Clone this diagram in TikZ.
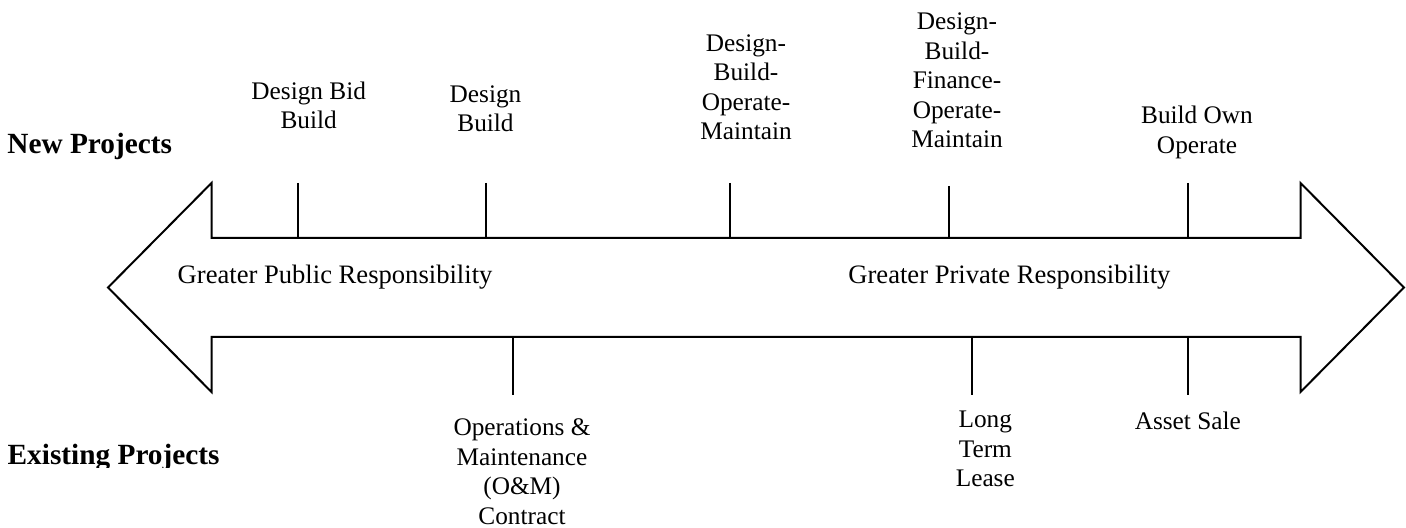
\documentclass[tikz,border=0pt]{standalone}
\usepackage{fontspec}
\setmainfont{Liberation Serif}
\usepackage{tikz}

\begin{document}
\begin{tikzpicture}[x=0.5pt,y=-0.5pt]
  \tikzset{arrowoutline/.style={draw=black,line width=1pt,line join=miter}}
  \tikzset{tickline/.style={draw=black,line width=1pt}}
  % multi-line labels sit on the baseline of their last line
  \tikzset{modellabel/.style={font=\fontsize{12.65}{14.75}\selectfont,align=center,anchor=base,inner sep=0pt}}
  \tikzset{spanlabel/.style={font=\fontsize{13.3}{15.5}\selectfont,anchor=base west,inner sep=0pt}}
  \tikzset{rowlabel/.style={font=\fontsize{14.65}{17}\selectfont\bfseries,anchor=base west,inner sep=0pt}}
  \useasboundingbox (0,0) rectangle (1406,528);
  % outline of the double arrow
  \coordinate (lt) at (108,287.5);
  \coordinate (lht) at (211.5,183);
  \coordinate (lbt) at (211.5,238);
  \coordinate (rbt) at (1300.5,238);
  \coordinate (rht) at (1300.5,183);
  \coordinate (rt) at (1404,287.5);
  \coordinate (rhb) at (1300.5,392);
  \coordinate (rbb) at (1300.5,337);
  \coordinate (lbb) at (211.5,337);
  \coordinate (lhb) at (211.5,392);
  \draw[arrowoutline] (lt) -- (lht) -- (lbt) -- (rbt) -- (rht) -- (rt)
    -- (rhb) -- (rbb) -- (lbb) -- (lhb) -- cycle;
  % ticks above the arrow
  \coordinate (dbb0) at (297.5,183);
  \coordinate (dbb1) at (297.5,238);
  \draw[tickline] (dbb0) -- (dbb1);
  \coordinate (db0) at (486,183);
  \coordinate (db1) at (486,238);
  \draw[tickline] (db0) -- (db1);
  \coordinate (dbom0) at (729.5,183);
  \coordinate (dbom1) at (729.5,238);
  \draw[tickline] (dbom0) -- (dbom1);
  \coordinate (dbfom0) at (948.5,186);
  \coordinate (dbfom1) at (948.5,238);
  \draw[tickline] (dbfom0) -- (dbfom1);
  \coordinate (boo0) at (1188.3,183);
  \coordinate (boo1) at (1188.3,238);
  \draw[tickline] (boo0) -- (boo1);
  % ticks below the arrow
  \coordinate (om0) at (513.3,337);
  \coordinate (om1) at (513.3,395);
  \draw[tickline] (om0) -- (om1);
  \coordinate (ltl0) at (972.3,337);
  \coordinate (ltl1) at (972.3,395);
  \draw[tickline] (ltl0) -- (ltl1);
  \coordinate (as0) at (1188.3,337);
  \coordinate (as1) at (1188.3,395);
  \draw[tickline] (as0) -- (as1);
  % delivery models
  \node[modellabel] (dbb) at (308.7,129) {Design Bid\\Build};
  \node[modellabel] (db) at (485.5,131.7) {Design\\Build};
  \node[modellabel] (dbom) at (746,140) {Design-\\Build-\\Operate-\\Maintain};
  \node[modellabel] (dbfom) at (957,147.7) {Design-\\Build-\\Finance-\\Operate-\\Maintain};
  \node[modellabel] (boo) at (1197,153.3) {Build Own\\Operate};
  \node[modellabel] (om) at (522,524) {Operations \&\\Maintenance\\(O\&M)\\Contract};
  \node[modellabel] (ltl) at (985.3,486.7) {Long\\Term\\Lease};
  \node[modellabel] (as) at (1187.8,429.3) {Asset Sale};
  % text inside the arrow
  \node[spanlabel] (public) at (177.3,283.3) {Greater Public Responsibility};
  \node[spanlabel] (private) at (848,283.3) {Greater Private Responsibility};
  % row headings
  \node[rowlabel] (new) at (7,153.3) {New Projects};
  \begin{scope}
    \clip (0,420) rectangle (300,467);
    \node[rowlabel] (existing) at (7.3,464.3) {Existing Projects};
  \end{scope}
\end{tikzpicture}
\end{document}
